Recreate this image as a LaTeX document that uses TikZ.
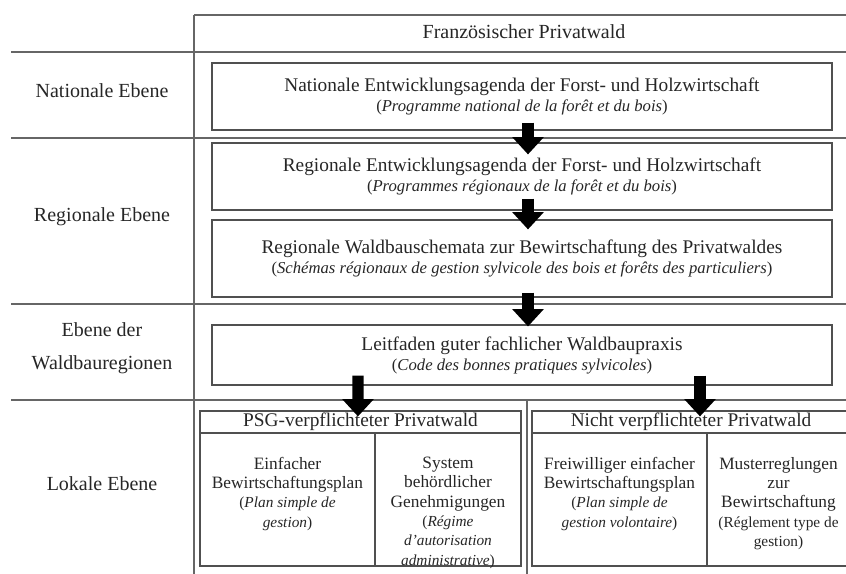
\documentclass[tikz,border=0pt]{standalone}
\usepackage{fontspec}
\setmainfont{Liberation Serif}
\usepackage{xcolor}
\usepackage{tikz}
\usetikzlibrary{arrows.meta,positioning}
\definecolor{darkgray}{HTML}{262626}
\definecolor{linegray}{HTML}{666666}
\definecolor{boxgray}{HTML}{505050}

\begin{document}
\begin{tikzpicture}[x=0.75pt,y=-0.75pt,
  levelbox/.style={draw=boxgray, line width=0.9pt, minimum width=465pt, align=center, text=darkgray, font=\fontsize{14.5}{15}\selectfont},
  headbox/.style={draw=boxgray, line width=0.9pt, minimum height=16.5pt, inner sep=0pt, text=darkgray, font=\fontsize{14.5}{15}\selectfont},
  colbox/.style={draw=boxgray, line width=0.9pt, minimum height=99.75pt},
  coltext/.style={align=center, text=darkgray, font=\fontsize{13}{14.5}\selectfont},
  lvl/.style={align=center, text=darkgray, font=\fontsize{15}{15}\selectfont},
  gridline/.style={draw=linegray, line width=1pt},
  bigarrow/.style={line width=8.5pt, -{Triangle[length=13pt,width=23pt]}}]
\useasboundingbox (0,0) rectangle (846,574);

\draw[gridline] (194,15) -- (850,15);
\foreach \y in {52,138,304,400}
  \draw[gridline] (11,\y) -- (850,\y);
\draw[gridline] (194,15) -- (194,580);
\draw[gridline] (527,400) -- (527,580);

\node[lvl] (title) at (524,32) {Französischer Privatwald};
\node[lvl] (natlbl) at (102,91) {Nationale Ebene};
\node[lvl] (reglbl) at (102,217) {Regionale Ebene};
\node[lvl] (wblbl) at (102,348) {Ebene der\\[10pt]Waldbauregionen};
\node[lvl] (loklbl) at (102,484) {Lokale Ebene};

\node[levelbox, minimum height=50.25pt] (nat) at (522,96.5) {Nationale Entwicklungsagenda der Forst- und Holzwirtschaft\\
  {\fontsize{12.5}{15}\selectfont(\textit{Programme national de la forêt et du bois})}};
\node[levelbox, minimum height=50.25pt] (rega) at (522,176.5) {Regionale Entwicklungsagenda der Forst- und Holzwirtschaft\\
  {\fontsize{12.5}{15}\selectfont(\textit{Programmes régionaux de la forêt et du bois})}};
\node[levelbox, minimum height=57.75pt] (regb) at (522,258.5) {Regionale Waldbauschemata zur Bewirtschaftung des Privatwaldes\\
  {\fontsize{12.5}{15}\selectfont(\textit{Schémas régionaux de gestion sylvicole des bois et forêts des particuliers})}};
\node[levelbox, minimum height=45pt] (leit) at (522,355) {Leitfaden guter fachlicher Waldbaupraxis\\
  {\fontsize{12.5}{15}\selectfont(\textit{Code des bonnes pratiques sylvicoles})}};

\node[headbox, minimum width=240.75pt] (psg) at (360.5,422) {PSG-verpflichteter Privatwald};
\node[colbox, minimum width=131.25pt] (einf) at (287.5,499.5) {};
\node[colbox, minimum width=109.5pt] (sys) at (448,499.5) {};
\node[coltext, below=15pt of einf.north] (einftxt) {Einfacher\\Bewirtschaftungsplan\\
  {\fontsize{11.5}{14.5}\selectfont(\textit{Plan simple de}}\\{\fontsize{11.5}{14.5}\selectfont\textit{gestion})}};
\node[coltext, below=15pt of sys.north] (systxt) {System\\behördlicher\\Genehmigungen\\
  {\fontsize{11.5}{14.5}\selectfont(\textit{Régime}}\\{\fontsize{11.5}{14.5}\selectfont\textit{d'autorisation}}\\
  {\fontsize{11.5}{14.5}\selectfont\textit{administrative})}};

\node[headbox, minimum width=238.5pt] (nicht) at (691,422) {Nicht verpflichteter Privatwald};
\node[colbox, minimum width=131.25pt] (frei) at (619.5,499.5) {};
\node[colbox, minimum width=107.25pt] (muster) at (778.5,499.5) {};
\node[coltext, below=15pt of frei.north] (freitxt) {Freiwilliger einfacher\\Bewirtschaftungsplan\\
  {\fontsize{11.5}{14.5}\selectfont(\textit{Plan simple de}}\\{\fontsize{11.5}{14.5}\selectfont\textit{gestion volontaire})}};
\node[coltext, below=15pt of muster.north] (mustertxt) {Musterreglungen\\zur\\Bewirtschaftung\\
  {\fontsize{11.5}{14.5}\selectfont(Réglement type de}\\{\fontsize{11.5}{14.5}\selectfont gestion)}};

\draw[bigarrow] ([xshift=4.5pt,yshift=6pt]nat.south) -- ([xshift=4.5pt,yshift=-9pt]rega.north);
\draw[bigarrow] ([xshift=4.5pt,yshift=9pt]rega.south) -- ([xshift=4.5pt,yshift=-7.5pt]regb.north);
\draw[bigarrow] ([xshift=4.5pt,yshift=3.75pt]regb.south) -- ([xshift=4.5pt,yshift=-1.5pt]leit.north);
\draw[bigarrow] ([xshift=-123pt,yshift=7.5pt]leit.south) -- ([xshift=-1.9pt,yshift=-4.5pt]psg.north);
\draw[bigarrow] ([xshift=133.5pt,yshift=7.5pt]leit.south) -- ([xshift=6.75pt,yshift=-4.5pt]nicht.north);
\end{tikzpicture}
\end{document}
